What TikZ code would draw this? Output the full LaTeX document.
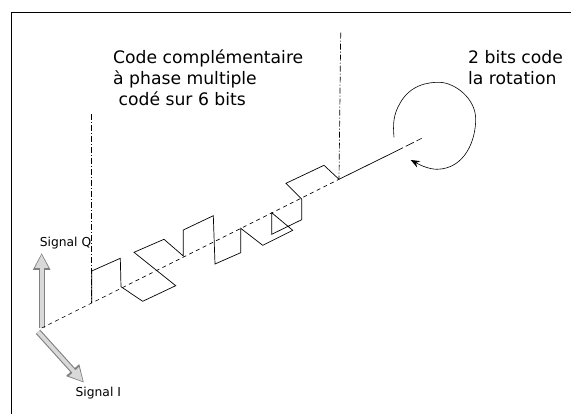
\documentclass[tikz,border=0pt]{standalone}
\usepackage{fontspec}
\setmainfont{DejaVu Sans}
\usepackage{xcolor}
\usetikzlibrary{arrows.meta, positioning}

\begin{document}
\begin{tikzpicture}[x=1pt, y=-1pt,
    bigtext/.style={anchor=north west, inner sep=0pt, align=left, font=\fontsize{17.2}{21}\selectfont},
    smalltext/.style={inner sep=0pt, font=\fontsize{12.3}{14}\selectfont},
    outerarrow/.style={line width=6pt, color=black!50, -{Triangle[length=17pt, width=16.5pt]}},
    innerarrow/.style={line width=3.8pt, color=black!15, shorten >=1.5pt, -{Triangle[length=13.5pt, width=12.5pt]}}]
    \useasboundingbox (0, 0) rectangle (571, 414);
    \coordinate (topleft) at (11, 12);
    \coordinate (topright) at (571, 12);
    \coordinate (botleft) at (11, 414);
    \draw[line width=0.9pt] (botleft) -- (topleft) -- (topright);
    \coordinate (o) at (41.7, 328);
    \coordinate (q) at (41.7, 253);
    \coordinate (i) at (84, 382.7);
    \coordinate (oi) at (38, 331.7);
    \coordinate (start) at (91.7, 302.7);
    \coordinate (end) at (339, 179.3);
    \coordinate (solidend) at (395, 151.7);
    \coordinate (axisend) at (421.7, 138.3);
    \coordinate (top1) at (91.7, 114);
    \coordinate (top2) at (340.7, 32.7);
    \node[bigtext] (code) at (113, 50) {Code complémentaire\\à phase multiple\\\ codé sur 6 bits};
    \node[bigtext] (rot) at (468, 50) {2 bits code\\la rotation};
    \node[smalltext] (sigq) at (65.5, 243) {Signal Q};
    \node[smalltext] (sigi) at (98.3, 393) {Signal I};
    \draw[outerarrow] (o) -- (q);
    \draw[innerarrow] (o) -- (q);
    \draw[outerarrow] (oi) -- (i);
    \draw[innerarrow] (oi) -- (i);
    \draw[dash pattern=on 4pt off 3.5pt, line width=0.6pt] (o) -- (end);
    \draw[line width=0.7pt] (end) -- (solidend);
    \draw[dash pattern=on 9pt off 3pt, line width=0.6pt] (solidend) -- (axisend);
    \draw[dash pattern=on 6pt off 2pt on 1pt off 2pt, line width=0.7pt] (top1) -- (start);
    \draw[dash pattern=on 6pt off 2pt on 1pt off 2pt, line width=0.7pt] (top2) -- (end);
    \draw[line width=0.7pt]
    (start) -- (91.7, 271) -- (120.3, 258.3) -- (121, 286.7) -- (142.7, 301.3) -- (175.7, 285.7)
    -- (134, 252.3) -- (164, 239.3) -- (183.3, 256) -- (183.3, 230) -- (213.3, 215.7)
    -- (215, 264) -- (240.7, 252.7) -- (240.7, 228.3) -- (262.7, 245.3) -- (292.7, 230.3)
    -- (271.7, 212.7) -- (271.7, 234.3) -- (301.7, 219.7) -- (301.7, 199) -- (286, 183.3)
    -- (324, 165.3) -- (end);
    \draw[line width=0.6pt, -{Stealth[length=9pt, width=7pt]}]
    (394, 137.3) .. controls (393, 125) and (393, 115) .. (400, 103.3)
    .. controls (410, 85) and (428, 82) .. (440, 82.3)
    .. controls (455, 83) and (475, 98) .. (475.7, 118.3)
    .. controls (476, 140) and (465, 169) .. (436.7, 169.3)
    .. controls (428, 169) and (420, 165) .. (410.7, 160);
\end{tikzpicture}
\end{document}
